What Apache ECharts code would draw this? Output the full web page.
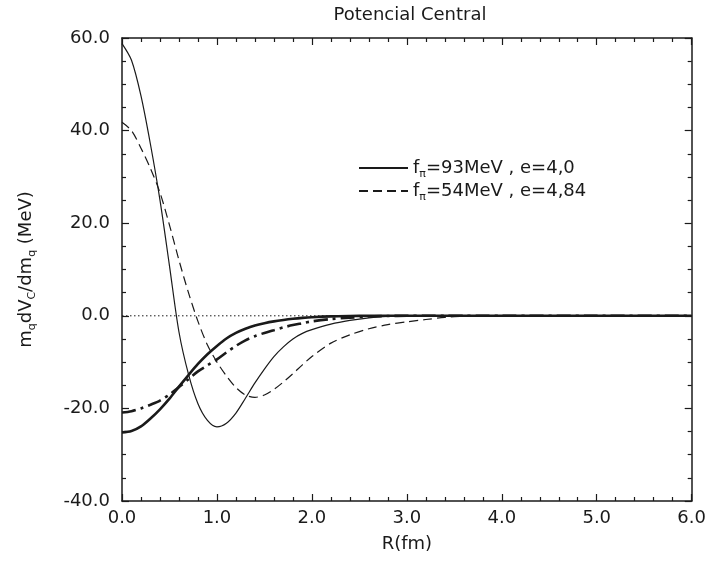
<!DOCTYPE html>
<html>
<head>
<meta charset="utf-8">
<script src="https://cdn.jsdelivr.net/npm/echarts@6/dist/echarts.min.js"></script>
<style>
  html, body { margin: 0; background: #fff; }
  #chart { width: 709px; height: 562px; }
</style>
</head>
<body>
<div id="chart"></div>
<script>
// R (fm)
const rValues = [0, 0.1, 0.2, 0.3, 0.4, 0.5, 0.6, 0.7, 0.8, 0.9, 1.0, 1.1, 1.2, 1.3, 1.4, 1.5, 1.6, 1.7, 1.8, 1.9, 2.0, 2.2, 2.4, 2.6, 2.8, 3.0, 3.2, 3.4, 3.6, 3.8, 4.0, 5.0, 6.0];

// f_pi = 93 MeV, e = 4,0 (linea fina)
const fpi93 = [58.8, 55.2, 47.5, 37.0, 25.0, 10.8, -3.5, -12.6, -19.0, -22.6, -24.0, -23.2, -21.0, -17.8, -14.5, -11.5, -8.8, -6.7, -5.0, -3.8, -3.0, -1.8, -1.0, -0.45, -0.15, -0.05, 0, 0, 0, 0, 0, 0, 0];
// f_pi = 54 MeV, e = 4,84 (discontinua fina)
const fpi54 = [41.8, 40.0, 36.2, 31.8, 26.6, 19.6, 12.0, 5.0, -1.2, -6.3, -10.0, -13.0, -15.5, -17.1, -17.6, -17.1, -15.9, -14.3, -12.5, -10.6, -8.8, -5.9, -4.1, -2.8, -1.9, -1.3, -0.8, -0.35, -0.1, 0, 0, 0, 0];
// curvas gruesas
const gruesa93 = [-25.2, -24.9, -23.9, -22.2, -20.2, -17.9, -15.3, -12.8, -10.4, -8.3, -6.5, -4.9, -3.7, -2.8, -2.1, -1.6, -1.2, -0.9, -0.65, -0.45, -0.3, -0.12, -0.04, 0, 0, 0, 0, 0, 0, 0, 0, 0, 0];
const gruesa54 = [-20.9, -20.6, -20.0, -19.2, -18.3, -17.0, -15.4, -13.7, -12.0, -10.7, -9.4, -7.9, -6.5, -5.3, -4.4, -3.7, -3.1, -2.5, -2.0, -1.6, -1.2, -0.7, -0.4, -0.15, -0.05, 0, 0, 0, 0, 0, 0, 0, 0];
const zeroLine = [[0, 0], [6, 0]];

const legendNames = ["fpi93", "fpi54"];
const legendLabels = {
  fpi93: "{a|f}{s|π}{a|=93MeV , e=4,0}",
  fpi54: "{a|f}{s|π}{a|=54MeV , e=4,84}",
};

const FONT = "DejaVu Sans";
const INK = "#1a1a1a";
const pares = (ys) => rValues.map((r, i) => [r, ys[i]]);

const richSub = {
  a: { fontFamily: FONT, fontSize: 18, color: INK, lineHeight: 24 },
  s: { fontFamily: FONT, fontSize: 11, color: INK, lineHeight: 10, verticalAlign: "bottom" },
};

const ejeX = (extra) => Object.assign({
  type: "value", min: 0, max: 6, interval: 1,
  axisLine: { onZero: false, lineStyle: { color: INK, width: 1.5 } },
  axisTick: { inside: true, length: 7, lineStyle: { color: INK, width: 1.2 } },
  minorTick: { show: true, splitNumber: 5, length: 4, lineStyle: { color: INK, width: 1.2 } },
  splitLine: { show: false },
}, extra);

const ejeY = (extra) => Object.assign({
  type: "value", min: -40, max: 60, interval: 20,
  axisLine: { onZero: false, lineStyle: { color: INK, width: 1.5 } },
  axisTick: { inside: true, length: 7, lineStyle: { color: INK, width: 1.2 } },
  minorTick: { show: true, splitNumber: 4, length: 4, lineStyle: { color: INK, width: 1.2 } },
  splitLine: { show: false },
}, extra);

const myChart = echarts.init(document.getElementById("chart"));

const option = {
  animation: false,
  backgroundColor: "#fff",
  color: [INK],
  title: {
    text: "Potencial Central",
    left: 410, textAlign: "center", top: 6, padding: 0,
    textStyle: { fontFamily: FONT, fontSize: 18, fontWeight: "normal", color: INK },
  },
  legend: {
    data: legendNames,
    orient: "vertical",
    left: 353, top: 154,
    itemWidth: 49, itemHeight: 14, itemGap: 2,
    itemStyle: { opacity: 0 },
    formatter: (name) => legendLabels[name],
    textStyle: { fontFamily: FONT, fontSize: 18, color: INK, rich: richSub },
    selectedMode: false,
  },
  grid: { left: 122, right: 15, top: 38, bottom: 61 },
  xAxis: [
    ejeX({
      position: "bottom",
      name: "R(fm)", nameLocation: "middle", nameGap: 34,
      nameTextStyle: { fontFamily: FONT, fontSize: 18, color: INK },
      axisLabel: { margin: 8, fontFamily: FONT, fontSize: 18, color: INK, formatter: (v) => v.toFixed(1) },
    }),
    ejeX({ position: "top", axisLabel: { show: false } }),
  ],
  yAxis: [
    ejeY({
      position: "left",
      name: "{a|m}{s|q}{a|dV}{s|C}{a|/dm}{s|q}{a| (MeV)}",
      nameLocation: "middle", nameRotate: 90, nameGap: 84,
      nameTextStyle: { rich: richSub },
      axisLabel: { margin: 12, fontFamily: FONT, fontSize: 18, color: INK, formatter: (v) => v.toFixed(1) },
    }),
    ejeY({ position: "right", axisLabel: { show: false } }),
  ],
  series: [
    {
      name: "cero", type: "line", data: zeroLine, symbol: "none", z: 1,
      lineStyle: { color: INK, width: 1, type: [1.5, 2.5] },
    },
    {
      name: "fpi93", type: "line", data: pares(fpi93), symbol: "none", smooth: 0.3,
      itemStyle: { color: INK },
      lineStyle: { color: INK, width: 1.2 },
    },
    {
      name: "fpi54", type: "line", data: pares(fpi54), symbol: "none", smooth: 0.3,
      itemStyle: { color: INK },
      lineStyle: { color: INK, width: 1.2, type: [9, 5] },
    },
    {
      name: "gruesa93", type: "line", data: pares(gruesa93), symbol: "none", smooth: 0.3,
      lineStyle: { color: INK, width: 2.6 },
    },
    {
      name: "gruesa54", type: "line", data: pares(gruesa54), symbol: "none", smooth: 0.3,
      lineStyle: { color: INK, width: 2.6, type: [14, 5, 3, 5] },
    },
  ],
};

myChart.setOption(option);
</script>
</body>
</html>
